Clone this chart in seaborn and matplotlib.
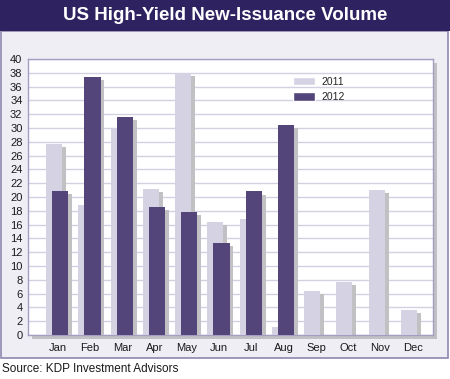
import matplotlib
matplotlib.use("Agg")
import matplotlib.pyplot as plt
from matplotlib.patches import Rectangle, Patch
import numpy as np
import seaborn as sns

# Data
months = ['Jan', 'Feb', 'Mar', 'Apr', 'May', 'Jun', 'Jul', 'Aug', 'Sep', 'Oct', 'Nov', 'Dec']
vol_2011 = [27.7, 18.9, 29.8, 21.2, 38.0, 16.4, 16.8, 1.1, 6.4, 7.7, 21.0, 3.6]
vol_2012 = [20.9, 37.4, 31.6, 18.6, 17.8, 13.3, 20.8, 30.4]

c2011 = '#d5d3e3'
c2012 = '#534579'
shadow = '#c1c1c3'
navy = '#2e2360'
bg = '#efeef5'
border = '#8e88b0'

sns.set_style('white')
plt.rcParams['font.family'] = ['Liberation Sans', 'DejaVu Sans']

fig = plt.figure(figsize=(4.5, 3.79), dpi=100)
fig.patch.set_facecolor('white')

H = 379.0
W = 450.0
# outer frame + title banner
fig.patches.append(Rectangle((1 / W, (H - 358) / H), 447 / W, (358 - 31) / H,
                             transform=fig.transFigure, facecolor=bg, edgecolor=border,
                             linewidth=1.2, zorder=-3))
fig.patches.append(Rectangle((0, (H - 31) / H), 1, 31 / H, transform=fig.transFigure,
                             facecolor=navy, edgecolor='none', zorder=-2))
fig.text(0.5, (H - 16) / H, 'US High-Yield New-Issuance Volume', color='white',
         fontsize=13.5, fontweight='bold', ha='center', va='center')

# plot area and its drop shadow
left, bottom, width, height = 28 / W, (H - 335) / H, 405 / W, 276 / H
fig.patches.append(Rectangle((left + 4 / W, bottom - 4 / H), width, height,
                             transform=fig.transFigure, facecolor=shadow, edgecolor='none', zorder=-1))
ax = fig.add_axes([left, bottom, width, height])
ax.set_zorder(2)
ax.set_facecolor('white')

pos = np.arange(len(months))
p11 = pos - 0.12
p12 = pos[:len(vol_2012)] + 0.07
dx, dy = 0.12, 0.45

kw = dict(native_scale=True, width=0.5, saturation=1, errorbar=None, linewidth=0, ax=ax)
sns.barplot(x=p11 + dx, y=np.array(vol_2011) - dy, color=shadow, zorder=2, **kw)
sns.barplot(x=p11, y=vol_2011, color=c2011, zorder=3, **kw)
sns.barplot(x=p12 + dx, y=np.array(vol_2012) - dy, color=shadow, zorder=4, **kw)
sns.barplot(x=p12, y=vol_2012, color=c2012, zorder=5, **kw)

ax.set_xlim(-0.93, 11.63)
ax.set_ylim(0, 40)
ax.set_xticks(pos)
ax.set_xticklabels(months)
ax.set_yticks(range(0, 41, 2))
ax.set_xlabel('')
ax.set_ylabel('')
ax.tick_params(axis='both', length=0, labelsize=8, colors='#1a1a1a')
ax.tick_params(axis='y', pad=4)
ax.tick_params(axis='x', pad=6)
ax.yaxis.grid(True, color='#d3d0e2', linewidth=1)
ax.set_axisbelow(True)
for s in ax.spines.values():
    s.set_color('#a49ec2')
    s.set_linewidth(1)

handles = [Patch(facecolor=c2011), Patch(facecolor=c2012)]
ax.legend(handles, ['2011', '2012'], loc='upper left', bbox_to_anchor=(0.63, 0.97),
          frameon=False, fontsize=7.5, handlelength=2.2, handleheight=0.9,
          labelspacing=0.55, handletextpad=0.6)

fig.text(2 / W, (H - 369) / H, 'Source: KDP Investment Advisors', fontsize=8.5,
         color='#1a1a1a', ha='left', va='center')

fig.savefig('out.png', dpi=100, facecolor=fig.get_facecolor())
